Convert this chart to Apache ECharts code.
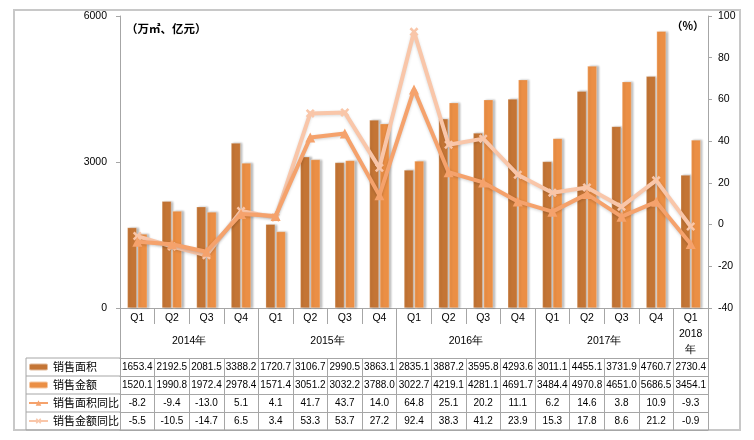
<!DOCTYPE html>
<html><head><meta charset="utf-8">
<script src="https://cdn.jsdelivr.net/npm/echarts@6/dist/echarts.min.js"></script>
<style>html,body{margin:0;padding:0;background:#fff}#c{width:754px;height:440px}</style>
</head><body><div id="c"></div>
<script>
var quarters = ['Q1','Q2','Q3','Q4','Q1','Q2','Q3','Q4','Q1','Q2','Q3','Q4','Q1','Q2','Q3','Q4','Q1'];
var years = ['2014年','2015年','2016年','2017年','2018\n年'];
var yearCenters = [2, 6, 10, 14, 16.5];
var yearStartIdx = [0, 4, 8, 12, 16];
var salesArea = [1653.4,2192.5,2081.5,3388.2,1720.7,3106.7,2990.5,3863.1,2835.1,3887.2,3595.8,4293.6,3011.1,4455.1,3731.9,4760.7,2730.4];
var salesAmount = [1520.1,1990.8,1972.4,2978.4,1571.4,3051.2,3032.2,3788.0,3022.7,4219.1,4281.1,4691.7,3484.4,4970.8,4651.0,5686.5,3454.1];
var areaYoy = [-8.2,-9.4,-13.0,5.1,4.1,41.7,43.7,14.0,64.8,25.1,20.2,11.1,6.2,14.6,3.8,10.9,-9.3];
var amountYoy = [-5.5,-10.5,-14.7,6.5,3.4,53.3,53.7,27.2,92.4,38.3,41.2,23.9,15.3,17.8,8.6,21.2,-0.9];
var names = ['销售面积','销售金额','销售面积同比','销售金额同比'];
var leftTicks = [0, 3000, 6000];
var rightRange = [-40, 100, 20];

var C_AREA = '#C47535', C_AMT = '#EB8F45', C_AYOY = '#F5A26C', C_MYOY = '#F9C6A9';
var GRID = '#A6A6A6';
var NUMFONT = 'Liberation Sans';
var CJK = 'Noto Sans CJK SC';
var fmt = function (v) { return Number(v).toFixed(1); };
var chart = echarts.init(document.getElementById('c'), null, {renderer: 'canvas'});

var tableRows = [salesArea, salesAmount, areaYoy, amountYoy];
var rowOffsets = [50, 68, 86, 104];
var rowCenters = [367, 385, 403, 421];
var xAxes = [
  {type: 'category', data: quarters, position: 'bottom', boundaryGap: true,
   axisLine: {lineStyle: {color: GRID}},
   axisTick: {show: true, interval: 0, length: 16, lineStyle: {color: GRID}},
   axisLabel: {interval: 0, margin: 5, color: '#000', fontSize: 10.5, fontFamily: NUMFONT}},
  {type: 'value', min: 0, max: 17, position: 'bottom', offset: 0,
   axisLine: {show: false}, splitLine: {show: false}, axisTick: {show: false},
   axisLabel: {customValues: yearCenters, margin: 18, color: '#000', fontSize: 10.5, fontFamily: NUMFONT,
     formatter: function (v) {
       var i = yearCenters.indexOf(v); if (i < 0) return '';
       var t = years[i];
       if (t.indexOf('\n') >= 0) { return t.split('\n').map(function (s) { return '{a|' + s + '}'; }).join('\n'); }
       return '{b|' + t + '}';
     },
     rich: {a: {lineHeight: 16, fontSize: 10.5, fontFamily: NUMFONT, color: '#000'},
            b: {lineHeight: 16, padding: [14, 0, 0, 0], fontSize: 10.5, fontFamily: NUMFONT, color: '#000'}}}},
  {type: 'category', data: quarters, position: 'bottom', offset: 0, boundaryGap: true,
   axisLine: {show: false}, axisLabel: {show: false},
   axisTick: {show: true, length: 50, lineStyle: {color: GRID},
     interval: function (idx) { return yearStartIdx.indexOf(idx) >= 0; }}}
];
tableRows.forEach(function (row, i) {
  xAxes.push({type: 'category', data: row.map(fmt), position: 'bottom', offset: rowOffsets[i], boundaryGap: true,
    axisLine: {show: true, lineStyle: {color: GRID}},
    axisTick: {show: true, interval: 0, length: 18, lineStyle: {color: GRID}},
    axisLabel: {interval: 0, margin: 4, color: '#000', fontSize: 10, fontFamily: NUMFONT, hideOverlap: false}});
});
xAxes.push({type: 'category', data: quarters, position: 'bottom', offset: 122,
  axisLine: {show: true, lineStyle: {color: GRID}}, axisTick: {show: false}, axisLabel: {show: false}});

var legends = names.map(function (n, i) {
  return {orient: 'vertical', left: 28, top: rowCenters[i] - 8, padding: 0, itemWidth: 19, itemHeight: 7, itemGap: 0,
    textStyle: {fontFamily: CJK, fontSize: 11, color: '#000', lineHeight: 16},
    selectedMode: false, data: [n]};
});

var option = {
  animation: false,
  backgroundColor: '#fff',
  grid: {left: 120, right: 46, top: 16, bottom: 132, containLabel: false},
  legend: legends,
  xAxis: xAxes,
  yAxis: [
    {type: 'value', min: leftTicks[0], max: leftTicks[2], interval: leftTicks[1] - leftTicks[0],
     name: '（万㎡、亿元）', nameLocation: 'end', nameGap: -13,
     nameTextStyle: {align: 'left', verticalAlign: 'middle', fontWeight: 'bold', fontSize: 11.5, fontFamily: CJK, color: '#000', padding: [0, 0, 0, 6]},
     axisLine: {show: true, lineStyle: {color: GRID}},
     axisTick: {show: true, length: 4, lineStyle: {color: GRID}},
     axisLabel: {margin: 13, color: '#000', fontSize: 10.5, fontFamily: NUMFONT, formatter: function (v) { return String(v); }},
     splitLine: {show: false}},
    {type: 'value', min: rightRange[0], max: rightRange[1], interval: rightRange[2], position: 'right',
     name: '（%）', nameLocation: 'end', nameGap: -10,
     nameTextStyle: {align: 'right', verticalAlign: 'middle', fontSize: 11, fontFamily: CJK, color: '#000', fontWeight: 'bold', padding: [0, 4, 0, 0]},
     axisLine: {show: true, lineStyle: {color: GRID}},
     axisTick: {show: true, length: 4, lineStyle: {color: GRID}},
     axisLabel: {margin: 10, color: '#000', fontSize: 10.5, fontFamily: NUMFONT},
     splitLine: {show: false}}
  ],
  graphic: [
    {type: 'rect', shape: {x: 14, y: 10, width: 726, height: 420}, style: {fill: 'none', stroke: '#C8C8C8', lineWidth: 2}, z: -1},
    {type: 'line', shape: {x1: 26, y1: 358, x2: 120, y2: 358}, style: {stroke: GRID, lineWidth: 1}},
    {type: 'line', shape: {x1: 26, y1: 376, x2: 120, y2: 376}, style: {stroke: GRID, lineWidth: 1}},
    {type: 'line', shape: {x1: 26, y1: 394, x2: 120, y2: 394}, style: {stroke: GRID, lineWidth: 1}},
    {type: 'line', shape: {x1: 26, y1: 412, x2: 120, y2: 412}, style: {stroke: GRID, lineWidth: 1}},
    {type: 'line', shape: {x1: 26, y1: 430, x2: 120, y2: 430}, style: {stroke: GRID, lineWidth: 1}},
    {type: 'line', shape: {x1: 26, y1: 358, x2: 26, y2: 430}, style: {stroke: GRID, lineWidth: 1}}
  ],
  series: [
    {name: names[0], type: 'bar', data: salesArea, xAxisIndex: 0, yAxisIndex: 0, barWidth: 9.5, barGap: '10%',
     itemStyle: {color: C_AREA, borderColor: 'rgba(255,255,255,0.5)', borderWidth: 0.5, shadowColor: 'rgba(0,0,0,0.28)', shadowBlur: 2, shadowOffsetX: 2, shadowOffsetY: 0}},
    {name: names[1], type: 'bar', data: salesAmount, xAxisIndex: 0, yAxisIndex: 0, barWidth: 9.5,
     itemStyle: {color: C_AMT, borderColor: 'rgba(255,255,255,0.5)', borderWidth: 0.5, shadowColor: 'rgba(0,0,0,0.28)', shadowBlur: 2, shadowOffsetX: 2, shadowOffsetY: 0}},
    {name: names[2], type: 'line', data: areaYoy, xAxisIndex: 0, yAxisIndex: 1, z: 4,
     symbol: 'triangle', symbolSize: 10, showAllSymbol: true,
     lineStyle: {color: C_AYOY, width: 4, shadowColor: 'rgba(0,0,0,0.18)', shadowBlur: 3, shadowOffsetY: 1},
     itemStyle: {color: C_AYOY, borderWidth: 0}},
    {name: names[3], type: 'line', data: amountYoy, xAxisIndex: 0, yAxisIndex: 1, z: 3,
     symbol: 'path://M2,0L5,3L8,0L10,2L7,5L10,8L8,10L5,7L2,10L0,8L3,5L0,2Z', symbolSize: 9, showAllSymbol: true,
     lineStyle: {color: C_MYOY, width: 4, shadowColor: 'rgba(0,0,0,0.15)', shadowBlur: 3, shadowOffsetY: 1},
     itemStyle: {color: C_MYOY, borderWidth: 0}}
  ]
};
chart.setOption(option);
</script></body></html>
